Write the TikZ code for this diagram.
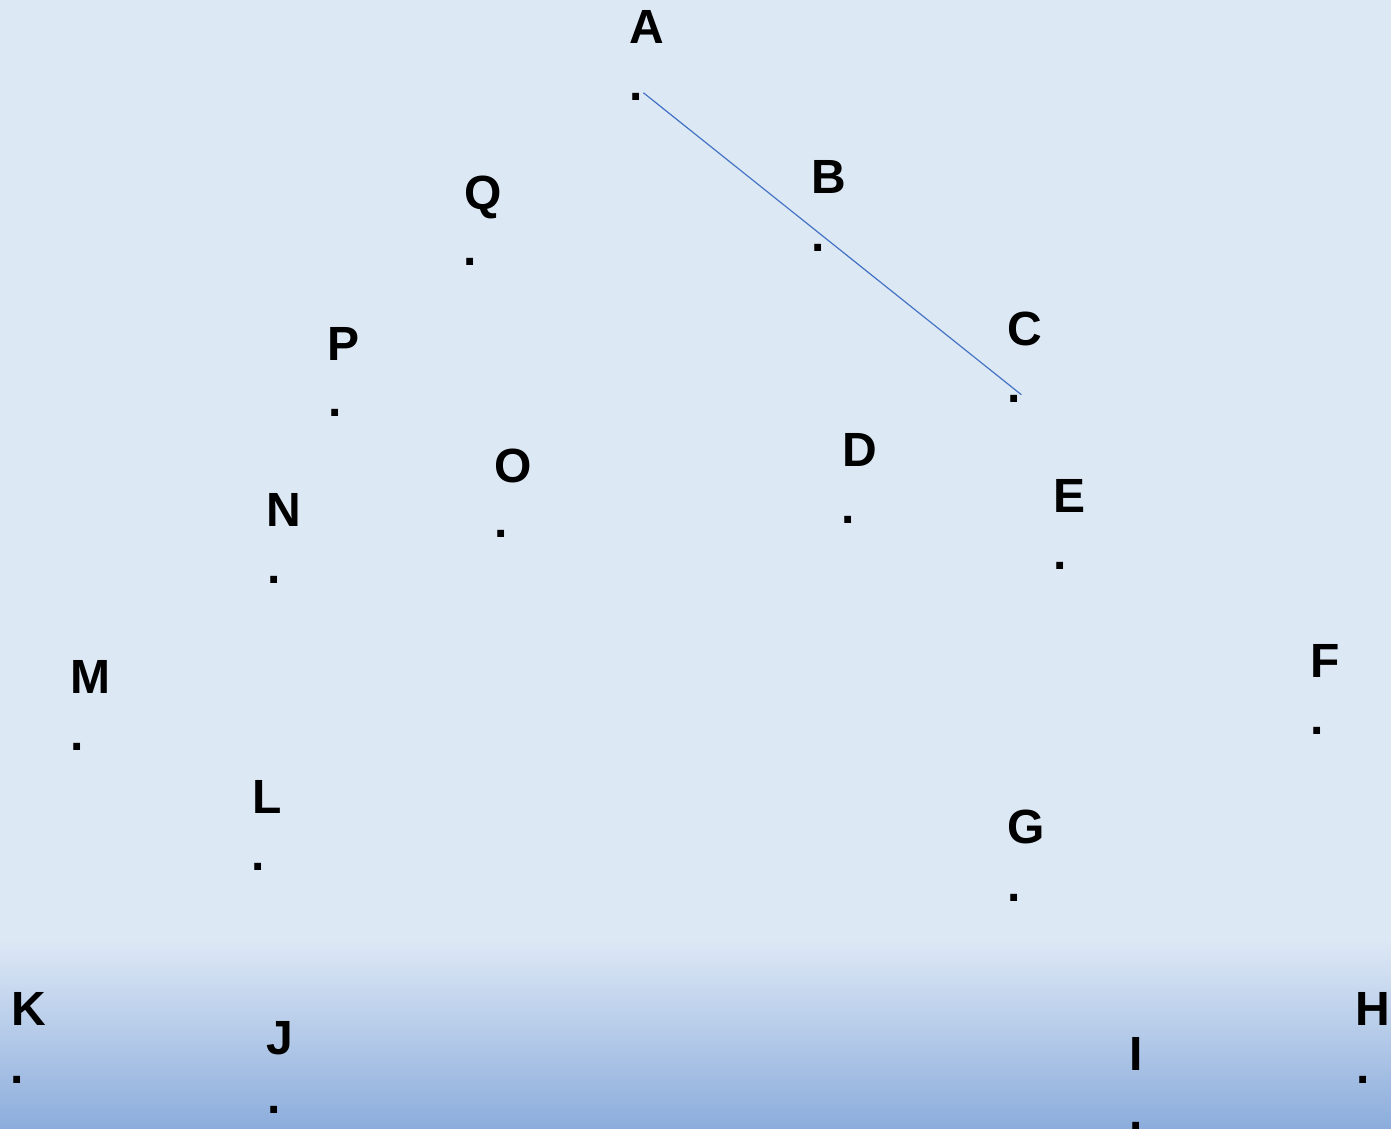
\documentclass[tikz,border=0pt]{standalone}
\usepackage{fontspec}
\setmainfont{Liberation Sans}
\definecolor{bgtop}{RGB}{221,232,245}
\definecolor{bgmid}{RGB}{192,212,237}
\definecolor{bgbot}{RGB}{140,173,220}
\definecolor{linkblue}{RGB}{68,114,196}
\begin{document}
\begin{tikzpicture}[x=1pt,y=-1pt,
  lab/.style={font=\fontsize{48}{58}\selectfont\bfseries, inner sep=0pt, anchor=base},
  pt/.style={font=\fontsize{48}{58}\selectfont\bfseries, inner sep=0pt, anchor=center},
  link/.style={draw=linkblue, line width=1.2pt}]
\useasboundingbox (0,0) rectangle (1391,1128);
\fill[bgtop] (0,0) rectangle (1391,1128);
\shade[top color=bgtop, middle color=bgmid, bottom color=bgbot] (0,940) rectangle (1391,1128);
% labels and points
\node[lab] (A) at (647,43) {A};      \node[pt] (dA) at (636.5,96.5) {.};
\node[lab] (B) at (829,193) {B};     \node[pt] (dB) at (818.5,247.5) {.};
\node[lab] (C) at (1025,345) {C};    \node[pt] (dC) at (1014.5,398.5) {.};
\node[lab] (D) at (859.5,466) {D};   \node[pt] (dD) at (848.5,519.5) {.};
\node[lab] (E) at (1069.5,512) {E};  \node[pt] (dE) at (1060,565.5) {.};
\node[lab] (F) at (1325.5,677) {F};  \node[pt] (dF) at (1317.5,730.5) {.};
\node[lab] (G) at (1026,843) {G};    \node[pt] (dG) at (1014.5,897.5) {.};
\node[lab] (H) at (1373,1025) {H};   \node[pt] (dH) at (1363,1079.5) {.};
\node[lab] (I) at (1136.5,1070) {I}; \node[pt] (dI) at (1136.5,1126) {.};
\node[lab] (J) at (280,1054) {J};    \node[pt] (dJ) at (274,1109.5) {.};
\node[lab] (K) at (28.5,1025) {K};   \node[pt] (dK) at (17,1079.5) {.};
\node[lab] (L) at (267.5,813) {L};   \node[pt] (dL) at (258.5,867) {.};
\node[lab] (M) at (90.5,693) {M};    \node[pt] (dM) at (77.5,746.5) {.};
\node[lab] (N) at (284,526) {N};     \node[pt] (dN) at (274,580) {.};
\node[lab] (O) at (513,482) {O};     \node[pt] (dO) at (501,534) {.};
\node[lab] (P) at (344,360) {P};     \node[pt] (dP) at (335,413) {.};
\node[lab] (Q) at (483,209) {Q};     \node[pt] (dQ) at (470.5,262) {.};
% segment A-C
\draw[link] (dA.north east) -- (dC.north east);
\end{tikzpicture}
\end{document}
